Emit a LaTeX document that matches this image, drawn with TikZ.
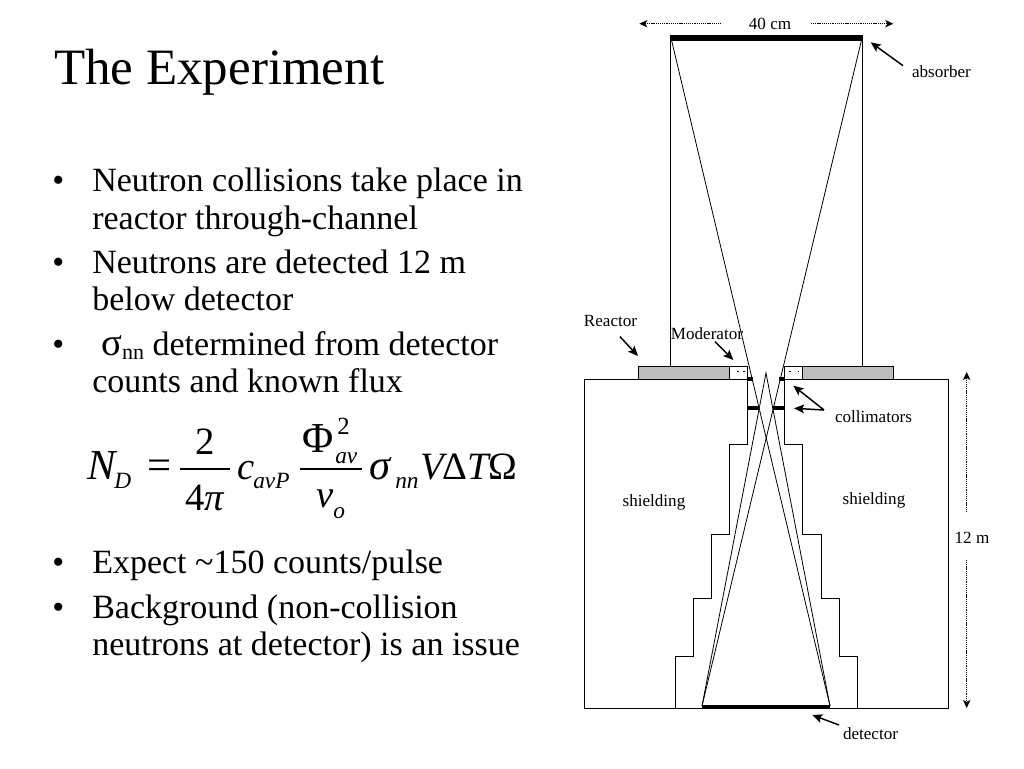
\documentclass[tikz,border=0pt]{standalone}
\usepackage{fontspec}
\setmainfont{Liberation Serif}
\usetikzlibrary{arrows.meta}

\tikzset{
  wall/.style={line width=0.65pt},
  ray/.style={line width=0.6pt},
  bar/.style={line width=#1,line cap=butt},
  pointer/.style={line width=1.1pt,-{Stealth[length=7.5pt,width=6.5pt,inset=1.5pt]}},
  span/.style={line width=0.9pt,dash pattern=on 0.8pt off 0.6pt,-{Stealth[length=6pt,width=5.5pt,inset=1.5pt]}},
  title/.style={anchor=base west,inner sep=0pt,font=\fontsize{38.25}{44}\selectfont},
  body/.style={anchor=base west,inner sep=0pt,align=left,font=\fontsize{25.5}{28.5}\selectfont},
  small/.style={anchor=center,inner sep=0pt,font=\fontsize{12.8}{15}\selectfont},
  eqbig/.style={anchor=base west,inner sep=0pt,font=\fontsize{29}{32}\selectfont},
  eqwide/.style={anchor=base west,inner sep=0pt,font=\fontsize{32}{34}\selectfont},
  eqsub/.style={anchor=base west,inner sep=0pt,font=\fontsize{17.5}{20}\selectfont\itshape},
}

\begin{document}
\begin{tikzpicture}[x=0.75pt,y=0.75pt,yscale=-1,xscale=1]
        \useasboundingbox (0,0) rectangle (1024,768);

        % Left column
        \node (title) [title] at (54,84) {The Experiment};
        \node (dotone) [body] at (52,191) {•};
        \node (lineone) [body] at (92,191) {Neutron collisions take place in};
        \node (linetwo) [body] at (92,229) {reactor through-channel};
        \node (dottwo) [body] at (52,273) {•};
        \node (linethree) [body] at (92,273) {Neutrons are detected 12 m};
        \node (linefour) [body] at (92,310) {below detector};
        \node (dotthree) [body] at (52,355) {•};
        \node (linefive) [body] at (101,355) {{\fontsize{29}{30}\selectfont σ}\raisebox{-3.5pt}{\fontsize{16.5}{20}\selectfont nn} determined from detector};
        \node (linesix) [body] at (92,392) {counts and known flux};
        \node (dotfour) [body] at (52,573) {•};
        \node (lineseven) [body] at (92,573) {Expect \textasciitilde150 counts/pulse};
        \node (dotfive) [body] at (52,618) {•};
        \node (lineeight) [body] at (92,618) {Background (non-collision};
        \node (linenine) [body] at (92,655) {neutrons at detector) is an issue};

        % Equation
        \node (eqn) [eqwide] at (87,479) {\itshape N};
        \node (eqd) [eqsub] at (114,488) {D};
        \node (eqeq) [eqwide] at (147,479) {=};
        \node (eqtwo) [eqbig,anchor=base] at (205,454) {2};
        \node (eqfour) [eqbig,anchor=base] at (205,510) {4\itshape π};
        \draw [wall,line width=1pt] (180,469) -- (230,469);
        \node (eqc) [eqbig] at (237,479) {\itshape c};
        \node (eqavp) [eqsub] at (253,488) {avP};
        \node (eqphi) [eqwide] at (302,452) {Φ};
        \node (eqsq) [eqsub,font=\fontsize{18.5}{20}\selectfont] at (337,434) {2};
        \node (eqav) [eqsub] at (335,463) {av};
        \draw [wall,line width=1pt] (300,469) -- (362,469);
        \node (eqv) [eqbig] at (316,507) {\itshape v};
        \node (eqo) [eqsub] at (333,518) {o};
        \node (eqsigma) [eqwide] at (369,479) {\itshape σ};
        \node (eqnn) [eqsub] at (395,488) {nn};
        \node (eqvol) [eqbig] at (420,479) {\itshape V};
        \node (eqdelta) [eqbig] at (442,479) {Δ};
        \node (eqt) [eqbig] at (467,479) {\itshape T};
        \node (eqomega) [eqbig] at (488,479) {Ω};

        % Reactor plate and moderator
        \draw [wall,fill={rgb,255:red,190;green,190;blue,190}] (638.5,366) rectangle (729,379.5);
        \draw [wall,fill={rgb,255:red,190;green,190;blue,190}] (802.7,366) rectangle (893,379.5);
        \draw [wall] (729,366) rectangle (747.8,379.5);
        \draw [wall] (784.2,366) rectangle (802.7,379.5);
        \draw [line width=0.5pt] (737,371.7) -- (738.5,371.7);
        \draw [line width=0.5pt] (743,371.7) -- (744.5,371.7);
        \draw [line width=0.5pt] (789,371.7) -- (790.5,371.7);
        \draw [line width=0.5pt] (797.5,371.7) -- (799,371.7);

        % Flight tube
        \draw [wall] (670,38) -- (670,366);
        \draw [wall] (862,38) -- (862,366);

        % Shielding, left and right
        \draw [wall] (584,708.5) -- (584,379.5) -- (747.8,379.5) -- (747.8,444) -- (729.7,444) -- (729.7,534) -- (711.3,534) -- (711.3,598.3) -- (693,598.3) -- (693,656.7) -- (675,656.7) -- (675,708.5);
        \draw [wall] (948,708.5) -- (948,379.5) -- (784.2,379.5) -- (784.2,444) -- (802.7,444) -- (802.7,534) -- (821,534) -- (821,598.3) -- (839,598.3) -- (839,656.7) -- (857.3,656.7) -- (857.3,708.5);
        \draw [wall] (584,708.5) -- (948,708.5);

        % Rays
        \draw [ray] (671,38) -- (830,706);
        \draw [ray] (862,38) -- (702,706);
        \draw [ray] (702,706) -- (766,373) -- (830,706);

        % Absorber, detector, collimators
        \draw [bar=3.8pt] (669.5,38) -- (862.5,38);
        \draw [bar=2.6pt] (702,706.7) -- (830,706.7);
        \draw [bar=3pt] (747.4,379.3) -- (752.8,379.3);
        \draw [bar=3pt] (779.3,379.3) -- (784.8,379.3);
        \draw [bar=3pt] (747.4,408.3) -- (759.2,408.3);
        \draw [bar=3pt] (772.7,408.3) -- (784.8,408.3);

        % Labels
        \node (labelcm) [small] at (770,23.5) {40 cm};
        \node (labelabsorber) [small] at (941.5,72) {absorber};
        \node (labelreactor) [small] at (610.5,320.5) {Reactor};
        \node (labelmoderator) [small] at (707,333.5) {Moderator};
        \node (labelcollimators) [small] at (873.5,416.5) {collimators};
        \node (labelleft) [small] at (654,502.5) {shielding};
        \node (labelright) [small] at (874,500) {shielding};
        \node (labelm) [small] at (972,537.5) {12 m};
        \node (labeldetector) [small] at (870.5,733.5) {detector};

        % Pointers
        \coordinate (absorberfoot) at (903,65.7);
        \coordinate (absorbertip) at (870.7,42.3);
        \coordinate (reactorfoot) at (620,336.7);
        \coordinate (reactortip) at (638,356);
        \coordinate (moderatorfoot) at (715,341.7);
        \coordinate (moderatortip) at (733.3,360);
        \coordinate (collimatorfoot) at (824,410);
        \coordinate (collimatortipa) at (793.3,385.7);
        \coordinate (collimatortipb) at (794,408.3);
        \coordinate (detectorfoot) at (839,725);
        \coordinate (detectortip) at (812.3,715);
        \draw [pointer] (absorberfoot) -- (absorbertip);
        \draw [pointer] (reactorfoot) -- (reactortip);
        \draw [pointer] (moderatorfoot) -- (moderatortip);
        \draw [pointer] (collimatorfoot) -- (collimatortipa);
        \draw [pointer] (collimatorfoot) -- (collimatortipb);
        \draw [pointer] (detectorfoot) -- (detectortip);

        % Dimension spans
        \coordinate (cmleft) at (720.7,23.7);
        \coordinate (cmlefttip) at (639.3,23.7);
        \coordinate (cmright) at (811,23.7);
        \coordinate (cmrighttip) at (893.3,23.7);
        \coordinate (mtop) at (966.7,512);
        \coordinate (mtoptip) at (966.7,372);
        \coordinate (mbottom) at (966.7,560);
        \coordinate (mbottomtip) at (966.7,708);
        \draw [span] (cmleft) -- (cmlefttip);
        \draw [span] (cmright) -- (cmrighttip);
        \draw [span] (mtop) -- (mtoptip);
        \draw [span] (mbottom) -- (mbottomtip);
\end{tikzpicture}
\end{document}
